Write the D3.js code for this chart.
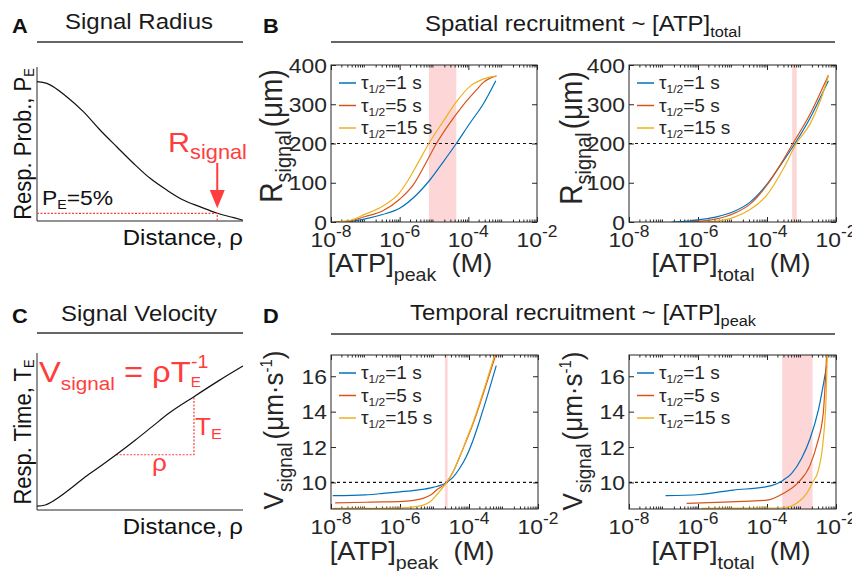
<!DOCTYPE html>
<html>
<head>
<meta charset="utf-8">
<script src="https://cdn.jsdelivr.net/npm/d3@7"></script>
<style>
  body { margin: 0; background: #fff; }
  svg { font-family: "Liberation Sans", Arial, Helvetica, sans-serif; }
</style>
</head>
<body>
<svg width="852" height="571"></svg>
<script>
// ---- schematic panels (normalised units) ----
var radiusDist = [0, 0.048, 0.144, 0.225, 0.306, 0.387, 0.468, 0.549, 0.63, 0.71, 0.79, 0.875, 0.955, 1.0];
var radiusProb = [0.905, 0.894, 0.807, 0.71, 0.591, 0.482, 0.375, 0.277, 0.201, 0.136, 0.093, 0.05, 0.022, 0.005];
var pThresh = 0.05, rSignal = 0.875;

var velocityDist = [0, 0.04, 0.073, 0.154, 0.235, 0.316, 0.384, 0.478, 0.559, 0.64, 0.762, 0.883, 1.0];
var velocityTime = [0.025, 0.032, 0.053, 0.127, 0.212, 0.287, 0.352, 0.446, 0.531, 0.616, 0.722, 0.824, 0.917];
var triangleRho = [0.384, 0.762];

// ---- model curves: x as log10 [ATP] (M), one list per tau ----
var tauLabels = ["1 s", "5 s", "15 s"];
var colors = ["#0072BD", "#D95319", "#EDB120"];
var xTickExp = [-8, -6, -4, -2];
var rTicks = [0, 100, 200, 300, 400];
var vTicks = [10, 12, 14, 16];

var rPeakX = [
  [-7.9, -7.5, -7.0, -6.5, -6.0, -5.5, -5.12, -4.74, -4.35, -3.96, -3.57, -3.2],
  [-7.9, -7.5, -7.0, -6.5, -6.0, -5.6, -5.3, -4.93, -4.54, -4.15, -3.77, -3.57, -3.38, -3.18],
  [-7.9, -7.5, -7.0, -6.5, -6.0, -5.8, -5.5, -5.15, -4.74, -4.35, -3.96, -3.57, -3.38, -3.18]];
var rPeakY = [
  [0, 1, 8, 19, 35, 70, 107, 152, 200, 251, 300, 360],
  [0, 2, 14, 28, 58, 95, 140, 200, 252, 298, 336, 355, 366, 372],
  [0, 3, 20, 40, 75, 100, 145, 200, 255, 306, 345, 364, 369, 372]];
var rPeakBand = [-5.15, -4.35];

var rTotalX = [
  [-6.77, -6.3, -5.95, -5.46, -4.98, -4.5, -4.01, -3.53, -3.19, -2.75, -2.45, -2.22],
  [-6.25, -5.95, -5.46, -4.98, -4.5, -4.01, -3.53, -3.25, -2.75, -2.45, -2.22],
  [-5.75, -5.46, -4.98, -4.5, -4.01, -3.53, -3.15, -2.75, -2.45, -2.22]];
var rTotalY = [
  [0, 2, 6, 13, 26, 50, 95, 155, 200, 265, 318, 360],
  [0, 2, 8, 21, 45, 93, 158, 200, 275, 330, 374],
  [0, 2, 11, 31, 68, 135, 200, 250, 310, 372]];
var rTotalBand = [-3.27, -3.14];

var vPeakX = [
  [-7.95, -7.0, -6.49, -6.0, -5.52, -5.04, -4.65, -4.46, -4.27, -4.08, -3.88, -3.69, -3.45, -3.21],
  [-7.88, -7.0, -6.49, -5.81, -5.33, -5.1, -4.94, -4.65, -4.46, -4.27, -4.08, -3.88, -3.59, -3.21],
  [-7.95, -7.0, -6.0, -5.81, -5.33, -5.1, -4.94, -4.65, -4.46, -4.27, -4.08, -3.88, -3.59, -3.24]];
var vPeakY = [
  [9.25, 9.3, 9.38, 9.47, 9.57, 9.72, 10.0, 10.3, 10.8, 11.45, 12.4, 13.5, 15.0, 16.6],
  [8.85, 8.88, 8.9, 8.95, 9.1, 9.3, 9.57, 10.0, 10.6, 11.45, 12.35, 13.33, 15.0, 17.3],
  [8.53, 8.53, 8.55, 8.58, 8.72, 8.95, 9.29, 10.0, 10.6, 11.45, 12.4, 13.4, 15.1, 17.3]];
var vPeakBand = [-4.70, -4.62];

var vTotalX = [
  [-6.94, -5.95, -4.98, -4.01, -3.53, -3.29, -3.0, -2.75, -2.51, -2.27],
  [-6.33, -5.46, -4.5, -4.01, -3.53, -3.09, -2.75, -2.56, -2.37, -2.27],
  [-5.9, -4.5, -3.53, -3.14, -2.85, -2.68, -2.51, -2.37, -2.29, -2.25]];
var vTotalY = [
  [9.25, 9.32, 9.57, 9.76, 10.13, 10.5, 11.35, 12.48, 14.1, 16.6],
  [8.82, 8.87, 8.95, 9.0, 9.38, 10.0, 10.98, 12.1, 13.9, 17.3],
  [8.53, 8.55, 8.57, 8.82, 9.38, 10.0, 10.7, 12.4, 14.65, 17.3]];
var vTotalBand = [-3.56, -2.68];

var RED = "#ff3d3d", INK = "#262626", SX = 1.09;
var svg = d3.select("svg");

// text with sub/superscripts, slightly widened like the source figure
function txt(g, x, y, parts, o) {
  var t = g.append("text")
    .attr("transform", "translate(" + x + "," + y + ") scale(" + SX + ",1)" + (o.rot ? " rotate(-90)" : ""))
    .attr("text-anchor", o.anchor || "start")
    .attr("font-size", o.size)
    .attr("font-weight", o.bold ? "bold" : null)
    .attr("fill", o.color || INK);
  var cur = 0;
  parts.forEach(function(p) {
    if (typeof p === "string") p = {t: p};
    var sh = p.shift || 0;
    t.append("tspan")
      .attr("dy", sh - cur)
      .attr("dx", p.dx || null)
      .attr("font-size", p.size || null)
      .text(p.t);
    cur = sh;
  });
  return t;
}

function hline(x0, x1, y, w) {
  svg.append("line").attr("x1", x0).attr("x2", x1).attr("y1", y).attr("y2", y)
    .attr("stroke", "#333").attr("stroke-width", w);
}

// ---- panel letters and titles ----
txt(svg, 12, 33, ["A"], {size: 20, bold: true, color: "#111"});
txt(svg, 263, 33, ["B"], {size: 20, bold: true, color: "#111"});
txt(svg, 12, 323, ["C"], {size: 20, bold: true, color: "#111"});
txt(svg, 263, 323, ["D"], {size: 20, bold: true, color: "#111"});

txt(svg, 139, 29, ["Signal Radius"], {size: 22, anchor: "middle", color: "#1a1a1a"});
txt(svg, 139, 321, ["Signal Velocity"], {size: 22, anchor: "middle", color: "#1a1a1a"});
txt(svg, 583, 31, ["Spatial recruitment ~ [ATP]", {t: "total", shift: 6, size: 15}],
    {size: 22, anchor: "middle", color: "#1a1a1a"});
txt(svg, 583, 320, ["Temporal recruitment ~ [ATP]", {t: "peak", shift: 6, size: 15}],
    {size: 22, anchor: "middle", color: "#1a1a1a"});
hline(37, 243, 42, 1.3);
hline(37, 243, 333, 1.3);
hline(331, 835, 42, 1.3);
hline(331, 835, 334, 1.3);

// ---- panel A: signal radius schematic ----
(function() {
  var g = svg.append("g");
  var x = d3.scaleLinear().domain([0, 1]).range([37, 243]);
  var y = d3.scaleLinear().domain([0, 1]).range([221, 67]);
  g.append("line").attr("x1", x(0)).attr("x2", x(0)).attr("y1", y(0)).attr("y2", y(1)).attr("stroke", INK);
  g.append("line").attr("x1", x(0)).attr("x2", x(1)).attr("y1", y(0)).attr("y2", y(0)).attr("stroke", INK);
  g.append("path")
    .attr("d", d3.line().curve(d3.curveMonotoneX).x(function(d, i) { return x(d); })
      .y(function(d, i) { return y(radiusProb[i]); })(radiusDist))
    .attr("fill", "none").attr("stroke", "#111").attr("stroke-width", 1.2);
  g.append("path")
    .attr("d", "M" + x(0) + "," + y(pThresh) + "H" + x(rSignal) + "V" + y(0))
    .attr("fill", "none").attr("stroke", RED).attr("stroke-width", 1.2).attr("stroke-dasharray", "2,1.5");
  var ax = x(rSignal);
  g.append("line").attr("x1", ax).attr("x2", ax).attr("y1", 163).attr("y2", 192)
    .attr("stroke", RED).attr("stroke-width", 2);
  g.append("path").attr("d", "M" + (ax - 7.5) + ",190L" + (ax + 7.5) + ",190L" + ax + "," + (y(pThresh) - 5) + "Z")
    .attr("fill", RED);
  txt(g, 168, 152, ["R", {t: "signal", shift: 7, size: 20}], {size: 28, color: RED});
  txt(g, 42, 205, ["P", {t: "E", shift: 4, size: 13}, {t: "=5%", shift: 0}], {size: 21, color: "#111"});
  txt(g, 31, 144, ["Resp. Prob., P", {t: "E", shift: 3, size: 13}], {size: 22, rot: true, anchor: "middle", color: "#111"});
  txt(g, 243, 245, ["Distance, ρ"], {size: 22, anchor: "end", color: "#111"});
})();

// ---- panel C: signal velocity schematic ----
(function() {
  var g = svg.append("g");
  var x = d3.scaleLinear().domain([0, 1]).range([37, 243]);
  var y = d3.scaleLinear().domain([0, 1]).range([510, 353]);
  var t0 = velocityTime[velocityDist.indexOf(triangleRho[0])];
  var t1 = velocityTime[velocityDist.indexOf(triangleRho[1])];
  g.append("line").attr("x1", x(0)).attr("x2", x(0)).attr("y1", y(0)).attr("y2", y(1)).attr("stroke", INK);
  g.append("line").attr("x1", x(0)).attr("x2", x(1)).attr("y1", y(0)).attr("y2", y(0)).attr("stroke", INK);
  g.append("path")
    .attr("d", "M" + x(triangleRho[0]) + "," + y(t0) + "H" + x(triangleRho[1]) + "V" + y(t1))
    .attr("fill", "none").attr("stroke", RED).attr("stroke-width", 1.2).attr("stroke-dasharray", "2,1.5");
  g.append("path")
    .attr("d", d3.line().curve(d3.curveMonotoneX).x(function(d) { return x(d); })
      .y(function(d, i) { return y(velocityTime[i]); })(velocityDist))
    .attr("fill", "none").attr("stroke", "#111").attr("stroke-width", 1.2);
  txt(g, 39, 382, ["V", {t: "signal", shift: 8, size: 19}, {t: " = ρT", shift: 0},
    {t: "E", shift: 5, size: 14}, {t: "-1", shift: -14, size: 18, dx: -9}], {size: 30, color: RED});
  txt(g, 195, 435, ["T", {t: "E", shift: 4, size: 15}], {size: 24, color: RED});
  txt(g, 152, 471, ["ρ"], {size: 24, color: RED});
  txt(g, 31, 432, ["Resp. Time, T", {t: "E", shift: 3, size: 13}], {size: 22, rot: true, anchor: "middle", color: "#111"});
  txt(g, 243, 534, ["Distance, ρ"], {size: 22, anchor: "end", color: "#111"});
})();

// ---- log-x panels ----
var panelId = 0;
function logPanel(p) {
  var g = svg.append("g");
  var x = d3.scaleLog().domain([1e-8, 1e-2]).range(p.xr);
  var y = d3.scaleLinear().domain(p.yd).range(p.yr);
  var x0 = p.xr[0], x1 = p.xr[1], yb = p.yr[0], yt = p.yr[1];
  var id = "clip" + (panelId++);
  g.append("clipPath").attr("id", id).append("rect")
    .attr("x", x0).attr("y", yt).attr("width", x1 - x0).attr("height", yb - yt);

  // shaded range
  g.append("rect")
    .attr("x", x(Math.pow(10, p.band[0]))).attr("width", x(Math.pow(10, p.band[1])) - x(Math.pow(10, p.band[0])))
    .attr("y", yt).attr("height", yb - yt).attr("fill", "#fdd7d7");

  // ticks
  var majors = xTickExp.map(function(e) { return Math.pow(10, e); });
  var minors = [];
  d3.range(-8, -2).forEach(function(e) { d3.range(2, 10).forEach(function(k) { minors.push(k * Math.pow(10, e)); }); });
  function tk(axis, tr) {
    var a = g.append("g").attr("transform", tr).call(axis);
    a.select(".domain").remove();
    a.selectAll("line").attr("stroke", INK);
  }
  tk(d3.axisBottom(x).tickValues(majors).tickSize(-5).tickFormat(""), "translate(0," + yb + ")");
  tk(d3.axisTop(x).tickValues(majors).tickSize(-5).tickFormat(""), "translate(0," + yt + ")");
  tk(d3.axisBottom(x).tickValues(minors).tickSize(-2.5).tickFormat(""), "translate(0," + yb + ")");
  tk(d3.axisTop(x).tickValues(minors).tickSize(-2.5).tickFormat(""), "translate(0," + yt + ")");
  tk(d3.axisLeft(y).tickValues(p.yTicks).tickSize(-5).tickFormat(""), "translate(" + x0 + ",0)");
  tk(d3.axisRight(y).tickValues(p.yTicks).tickSize(-5).tickFormat(""), "translate(" + x1 + ",0)");

  // reference line
  g.append("line").attr("x1", x0).attr("x2", x1).attr("y1", y(p.ref)).attr("y2", y(p.ref))
    .attr("stroke", "#111").attr("stroke-width", 1.2).attr("stroke-dasharray", "3,3");

  // curves
  var line = d3.line().curve(d3.curveMonotoneX)
    .x(function(d) { return x(Math.pow(10, d[0])); }).y(function(d) { return y(d[1]); });
  p.xs.forEach(function(xs, k) {
    var pts = xs.map(function(v, i) { return [v, p.ys[k][i]]; });
    g.append("path").attr("d", line(pts)).attr("clip-path", "url(#" + id + ")")
      .attr("fill", "none").attr("stroke", colors[k]).attr("stroke-width", 1.2);
  });

  // box
  g.append("rect").attr("x", x0).attr("y", yt).attr("width", x1 - x0).attr("height", yb - yt)
    .attr("fill", "none").attr("stroke", INK).attr("stroke-width", 1);

  // tick labels
  xTickExp.forEach(function(e) {
    txt(g, x(Math.pow(10, e)), yb + 25, ["10", {t: "-" + Math.abs(e), shift: -10, size: 16}], {size: 21, anchor: "middle"});
  });
  p.yTicks.forEach(function(v) {
    txt(g, x0 - 4, y(v) + 7.5, [String(v)], {size: 21, anchor: "end"});
  });

  // legend
  tauLabels.forEach(function(lab, k) {
    var ly = yt + 18 + k * 22.5;
    g.append("line").attr("x1", x0 + 8).attr("x2", x0 + 25).attr("y1", ly).attr("y2", ly)
      .attr("stroke", colors[k]).attr("stroke-width", 1.5);
    txt(g, x0 + 30, ly + 6, ["τ", {t: "1/2", shift: 4, size: 11}, {t: "=" + lab, shift: 0}], {size: 17.5});
  });

  // axis labels
  txt(g, p.xl[0], p.xl[1], ["[ATP]", {t: p.sub, shift: 9, size: 18}, {t: "(M)", shift: 0, dx: 14}],
      {size: 25, anchor: "middle"});
  txt(g, p.yl[0], p.yl[1], p.ylab, {size: p.ylSize, rot: true, anchor: "middle"});
}

var rLabel = ["R", {t: "signal", shift: 8, size: 20}, {t: "(μm)", shift: 0, dx: 3}];
var vLabel = ["V", {t: "signal", shift: 8, size: 19}, {t: "(μm·s", shift: 0, dx: 3},
  {t: "-1", shift: -10, size: 15}, {t: ")", shift: 0}];

logPanel({xr: [331, 537], yr: [222, 65], yd: [0, 400], yTicks: rTicks, ref: 200, band: rPeakBand,
  xs: rPeakX, ys: rPeakY, sub: "peak", xl: [410, 272], yl: [282, 136], ylab: rLabel, ylSize: 28});
logPanel({xr: [629, 836], yr: [222, 65], yd: [0, 400], yTicks: rTicks, ref: 200, band: rTotalBand,
  xs: rTotalX, ys: rTotalY, sub: "total", xl: [731, 272], yl: [582, 138], ylab: rLabel, ylSize: 28});
logPanel({xr: [331, 538], yr: [509, 355], yd: [8.5, 17.2], yTicks: vTicks, ref: 10, band: vPeakBand,
  xs: vPeakX, ys: vPeakY, sub: "peak", xl: [412, 560], yl: [283, 430], ylab: vLabel, ylSize: 26});
logPanel({xr: [629, 836], yr: [509, 355], yd: [8.5, 17.2], yTicks: vTicks, ref: 10, band: vTotalBand,
  xs: vTotalX, ys: vTotalY, sub: "total", xl: [731, 560], yl: [582, 431], ylab: vLabel, ylSize: 26});
</script>
</body>
</html>
